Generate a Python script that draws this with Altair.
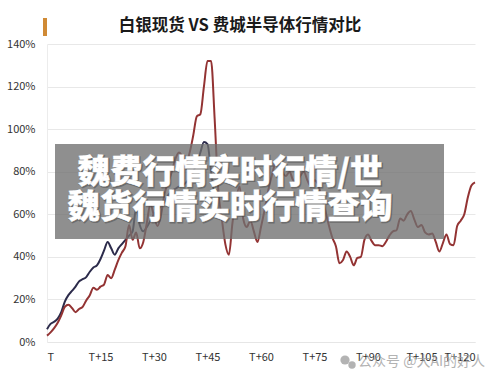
import altair as alt
import pandas as pd

# ---- data ----
silver_days = list(range(0, 48))
silver_pct = [6, 8.5, 9.5, 11, 14, 19, 22, 24, 26, 28.5, 29.5, 30.5, 33, 35, 36, 39,
              43, 47, 44, 41, 44, 46, 48, 50, 52, 63, 55, 52, 54, 57, 60, 62,
              64, 66, 69, 71, 72, 73, 73.5, 75, 77, 80, 84, 89, 94, 93, 80, 68]

sox_days = list(range(0, 121))
sox_pct = [3, 4.5, 6.5, 9, 12.5, 16.5, 17.5, 16, 14, 15.5, 16.5, 19.5, 22, 25.5, 24.5, 26,
           27, 31.5, 30, 34, 38.5, 42, 45, 55, 48, 51.5, 44, 47, 56, 65, 59, 54.5,
           60, 70, 75, 80, 86, 89, 87, 84, 89, 97, 106, 107, 120, 132, 132, 105,
           72, 58, 46, 41, 56, 67, 73, 58, 54, 57, 52, 47, 54, 62, 71, 78,
           84, 86, 80, 78, 80, 76, 75, 78, 80, 76, 73, 76, 74, 68, 62, 55,
           49, 45, 37, 38.5, 42.5, 40, 36, 39.5, 40, 48, 50.5, 47.5, 45.5, 45.5, 45, 47,
           50, 52, 52.5, 58, 57, 60, 61.5, 57.5, 54, 55, 51.5, 50.5, 51, 47, 42.5, 46.5,
           50.5, 46, 45.5, 54.5, 57, 60, 68, 73.5, 75]

series_names = ["白银现货", "费城半导体"]
series_colors = ["#2c2b4b", "#933333"]

x_ticks = [0, 15, 30, 45, 60, 75, 90, 105, 120]
y_ticks = [0, 20, 40, 60, 80, 100, 120, 140]

title_text = "白银现货 VS 费城半导体行情对比"
overlay_line1 = "魏费行情实时行情/世"
overlay_line2 = "魏货行情实时行情查询"
watermark = "公众号 @大AI的好人"

df = pd.concat([
    pd.DataFrame({"day": silver_days, "pct": silver_pct, "series": series_names[0]}),
    pd.DataFrame({"day": sox_days, "pct": sox_pct, "series": series_names[1]}),
])

FONT = "Noto Sans CJK SC"
W, H = 428, 298

lines = alt.Chart(df).mark_line(strokeWidth=2, interpolate="monotone", strokeJoin="round").encode(
    x=alt.X("day:Q", scale=alt.Scale(domain=[0, 120], nice=False),
            axis=alt.Axis(values=x_ticks, labelExpr="datum.value == 0 ? 'T' : 'T+' + datum.value",
                          grid=False, ticks=False, domain=True, domainColor="#e6e6e6",
                          labelFontSize=11, labelColor="#333", labelPadding=9, title=None,
                          labelFont=FONT)),
    y=alt.Y("pct:Q", scale=alt.Scale(domain=[0, 140], nice=False),
            axis=alt.Axis(values=y_ticks, labelExpr="datum.value + '%'",
                          grid=True, gridColor="#e8e8e8", ticks=False, domain=True,
                          domainColor="#ececec", labelFontSize=11, labelColor="#333",
                          labelPadding=12, title=None, labelFont=FONT)),
    color=alt.Color("series:N", scale=alt.Scale(domain=series_names, range=series_colors), legend=None),
    detail="series:N",
)

one = pd.DataFrame({"a": [0]})

overlay = alt.Chart(one).mark_rect(color="#707070", opacity=0.78).encode(
    x=alt.value(8), x2=alt.value(397), y=alt.value(100), y2=alt.value(195))

def big_text(txt, x, y, color, stroke_w, opacity=1.0):
    return alt.Chart(one).mark_text(text=txt, font=FONT, fontSize=32.5, fontWeight=900,
                                    align="left", baseline="middle", color=color,
                                    stroke=color, strokeWidth=stroke_w, opacity=opacity).encode(
        x=alt.value(x), y=alt.value(y))

shadow1 = big_text(overlay_line1, 31.5, 130, "#3a3a3a", 1.5, 0.4)
text1 = big_text(overlay_line1, 30.5, 129, "white", 0.4)
shadow2 = big_text(overlay_line2, 21.5, 165, "#3a3a3a", 1.5, 0.4)
text2 = big_text(overlay_line2, 20.5, 164, "white", 0.4)

title = alt.Chart(one).mark_text(text=title_text, font=FONT, fontSize=16.5, fontWeight="bold",
                                 align="center", baseline="middle", color="#1a1a1a").encode(
    x=alt.value(193), y=alt.value(-18.5))
bar = alt.Chart(one).mark_rect(color="#d08a35").encode(
    x=alt.value(-4), x2=alt.value(0), y=alt.value(-26), y2=alt.value(-8))

wm_text = alt.Chart(one).mark_text(text=watermark, font=FONT, fontSize=14, align="left",
                                   baseline="middle", color="#9a9a9a", opacity=0.75).encode(
    x=alt.value(311), y=alt.value(318))
wm_icon1 = alt.Chart(one).mark_point(filled=True, shape="circle", size=85, color="#9a9a9a", opacity=0.75).encode(
    x=alt.value(298), y=alt.value(316))
wm_icon2 = alt.Chart(one).mark_point(filled=True, shape="circle", size=55, color="#9a9a9a", opacity=0.75).encode(
    x=alt.value(305), y=alt.value(321))

chart = alt.layer(lines, overlay, shadow1, text1, shadow2, text2, title, bar,
                  wm_icon1, wm_icon2, wm_text).properties(
    width=W, height=H,
    autosize=alt.AutoSizeParams(type="none"),
    padding={"left": 47, "top": 44, "right": 25, "bottom": 43},
    background="white",
).configure_view(stroke=None)

chart.save("out.html", embed_options={"renderer": "svg", "actions": False})
